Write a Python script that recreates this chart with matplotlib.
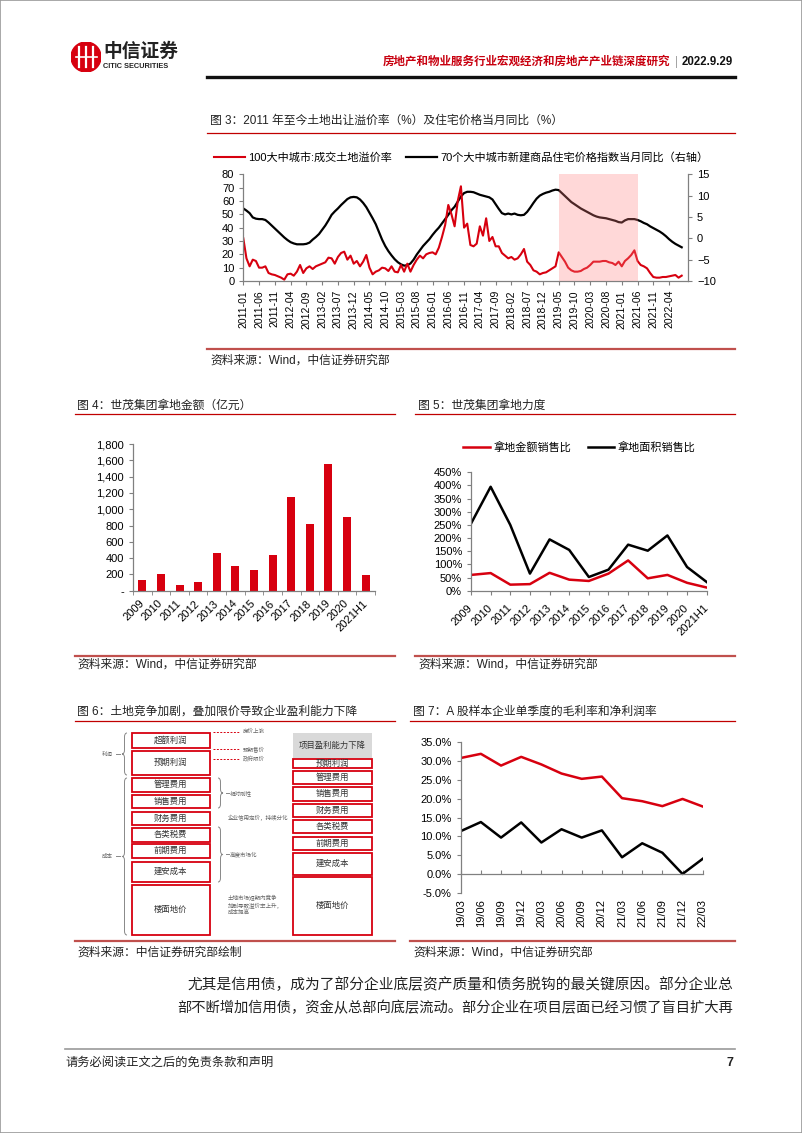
import numpy as np
import matplotlib
matplotlib.use('Agg')
import matplotlib.pyplot as plt
import matplotlib.ticker as ticker
from matplotlib.patches import Rectangle, Circle, PathPatch
from matplotlib.path import Path
from matplotlib.lines import Line2D

plt.rcParams['font.family'] = ['Liberation Sans', 'Noto Sans CJK SC', 'DejaVu Sans']

RED = '#D7000F'
AXIS = '#808080'

# ---------------- data ----------------
# fig 3: monthly, 2011-01 .. 2022-08
premium_rate = [32, 17, 11, 16, 15, 10, 10, 11, 6, 5, 4.5, 3.5,
                2.5, 1, 5, 5.5, 4, 7, 12, 6, 9.5, 11, 9, 11,
                12, 13, 14, 17.5, 17, 13, 18, 21, 22, 16, 19, 13,
                15, 11, 14.5, 19.5, 10, 5, 7, 8, 10, 9.5, 7.5, 11,
                7, 6.5, 12, 7, 13, 7, 12, 16, 19, 17, 20, 21,
                21.5, 20, 25, 33, 42, 57, 50, 41, 60, 71, 40, 43,
                27, 26, 28, 41, 34, 47, 30, 33, 26, 26, 21, 19,
                17, 18, 16, 17, 20, 24, 14.5, 12, 8, 7, 5, 6,
                6.5, 8, 9.5, 11, 21.5, 18, 14.5, 10, 8, 7, 7, 7.5,
                9, 10, 12, 14.5, 14.5, 14.5, 15, 15, 14, 13.5, 12, 14.5,
                11, 15, 17, 19.5, 23, 15, 12, 11, 9.5, 6, 3, 2.5,
                2.5, 3, 3, 3.5, 4, 4.5, 2.5, 4]
price_yoy = [7.0, 6.5, 5.9, 4.9, 4.6, 4.5, 4.5, 4.3, 3.7, 3.0, 2.3, 1.6,
             0.9, 0.2, -0.4, -0.9, -1.2, -1.4, -1.4, -1.4, -1.3, -1.0, -0.3, 0.3,
             1.0, 2.0, 3.0, 4.2, 5.5, 6.3, 7.0, 7.8, 8.5, 9.2, 9.6, 9.7,
             9.6, 9.1, 8.3, 7.3, 6.0, 4.7, 3.3, 1.5, -0.3, -1.8, -3.0, -4.0,
             -4.9, -5.6, -6.1, -6.4, -6.3, -5.9, -5.0, -3.8, -2.8, -1.8, -1.0, -0.2,
             0.8, 1.7, 2.5, 3.5, 4.5, 5.5, 6.6, 7.4, 8.6, 9.8, 10.6, 10.9,
             10.9, 10.8, 10.5, 10.2, 10.0, 9.8, 9.6, 9.1, 8.0, 6.9, 5.9, 5.6,
             5.8, 5.6, 5.8, 5.5, 5.4, 5.5, 6.2, 7.2, 8.3, 9.3, 10.0, 10.4,
             10.7, 10.9, 11.2, 11.4, 11.3, 10.6, 9.9, 9.2, 8.5, 8.0, 7.5, 7.0,
             6.6, 6.2, 5.8, 5.4, 5.1, 4.9, 4.8, 4.7, 4.5, 4.3, 4.1, 3.8,
             3.7, 4.2, 4.5, 4.5, 4.5, 4.3, 4.0, 3.6, 3.3, 2.8, 2.4, 2.0,
             1.6, 1.1, 0.5, -0.2, -0.8, -1.3, -1.7, -2.1]
month_ticks = ['2011-01', '2011-06', '2011-11', '2012-04', '2012-09', '2013-02', '2013-07',
               '2013-12', '2014-05', '2014-10', '2015-03', '2015-08', '2016-01', '2016-06',
               '2016-11', '2017-04', '2017-09', '2018-02', '2018-07', '2018-12', '2019-05',
               '2019-10', '2020-03', '2020-08', '2021-01', '2021-06', '2021-11', '2022-04']
shade_months = (100, 125)   # 2019-05 .. 2021-06

# fig 4 / 5
years = ['2009', '2010', '2011', '2012', '2013', '2014', '2015', '2016', '2017',
         '2018', '2019', '2020', '2021H1']
land_amount = [130, 200, 70, 110, 460, 300, 250, 435, 1150, 820, 1555, 905, 195]
amount_sales_ratio = [60, 67, 23, 25, 68, 42, 37, 65, 115, 47, 60, 30, 12]
area_sales_ratio = [255, 395, 250, 65, 195, 155, 52, 80, 175, 152, 210, 90, 33]

# fig 7
quarters = ['19/03', '19/06', '19/09', '19/12', '20/03', '20/06', '20/09', '20/12',
            '21/03', '21/06', '21/09', '21/12', '22/03']
gross_margin = [30.7, 31.8, 28.7, 31.0, 29.0, 26.6, 25.2, 25.8, 20.1, 19.3, 18.0, 19.9, 17.9]
net_margin = [11.4, 13.8, 9.7, 13.7, 8.4, 11.9, 9.7, 11.6, 4.5, 8.2, 5.7, 0.1, 4.1]

# fig 6 diagram
left_items = ['超额利润', '预期利润', '管理费用', '销售费用', '财务费用', '各类税费', '前期费用', '建安成本', '楼面地价']
left_rows = [(733.3, 748.3), (751, 775), (778.3, 791.7), (795, 808.3), (811.7, 825),
             (828.3, 841.7), (844.3, 858.3), (861.7, 881.7), (885, 935)]
right_items = ['预期利润', '管理费用', '销售费用', '财务费用', '各类税费', '前期费用', '建安成本', '楼面地价']
right_rows = [(759.3, 768.3), (770.7, 784), (787.3, 800.7), (804, 817.3), (820, 833.3),
              (836.7, 850), (853.3, 875), (877.3, 935)]
price_notes = ['房价上涨', '预期售价', '政府限价']
price_rows = [731.7, 749.3, 759.3]

W, H = 802, 1133
fig = plt.figure(figsize=(8.02, 11.33), dpi=100)


def box(l, t, r, b):
    return [l / W, 1 - b / H, (r - l) / W, (b - t) / H]


def ftext(x, y, s, **kw):
    kw.setdefault('va', 'center')
    fig.text(x / W, 1 - y / H, s, **kw)


def hline(x0, x1, y, color, lw):
    fig.add_artist(Line2D([x0 / W, x1 / W], [1 - y / H, 1 - y / H],
                          transform=fig.transFigure, color=color, lw=lw))


def style_axis(ax, left=True):
    for s in ['top', 'right']:
        ax.spines[s].set_visible(False)
    for s in ['left', 'bottom']:
        ax.spines[s].set_color(AXIS)
        ax.spines[s].set_linewidth(0.9)
    ax.tick_params(colors=AXIS, labelcolor='black', labelsize=8, length=3, width=0.8)


# page frame
fig.add_artist(Rectangle((0, 0), 1, 1, transform=fig.transFigure, fill=False, ec='#9a9a9a', lw=1.2))

# ---------------- header ----------------
lax = fig.add_axes(box(71, 42, 101, 72))
lax.set_xlim(-1, 1); lax.set_ylim(-1, 1); lax.set_aspect('equal'); lax.axis('off')
lax.add_patch(Circle((0, 0), 1, color='#D7000F'))
for xx in [-0.45, 0, 0.45]:
    lax.plot([xx, xx], [-0.65, 0.65], color='white', lw=1.6)
lax.plot([-0.7, 0.7], [0, 0], color='white', lw=1.2)
ftext(103, 52, '中信证券', fontsize=13.5, fontweight='bold', color='#222222')
ftext(103, 67, 'CITIC SECURITIES', fontsize=5.3, fontweight='bold', color='#222222')
ftext(670, 62, '房地产和物业服务行业宏观经济和房地产产业链深度研究', fontsize=8.3,
      fontweight='bold', color='#C8000F', ha='right')
ftext(676, 62, '|', fontsize=8.3, color='#999999', ha='center')
ftext(733, 62, '2022.9.29', fontsize=8.3, fontweight='bold', color='#111111', ha='right')
hline(207, 735, 77, '#111111', 2.4)

# ---------------- figure 3 ----------------
ftext(210, 121, '图 3：2011 年至今土地出让溢价率（%）及住宅价格当月同比（%）', fontsize=8.5, color='#222222')
hline(207, 735, 133, '#C00000', 0.9)
ax3 = fig.add_axes(box(243.3, 174.3, 688, 281))
ax3b = ax3.twinx()
m = np.arange(len(premium_rate))
l_black, = ax3b.plot(m, price_yoy, color='black', lw=1.6,
                     label='70个大中城市新建商品住宅价格指数当月同比（右轴）')
l_red, = ax3.plot(m, premium_rate, color=RED, lw=1.5, label='100大中城市:成交土地溢价率')
ax3.set_zorder(ax3b.get_zorder() + 1)
ax3.patch.set_visible(False)
ax3.axvspan(shade_months[0], shade_months[1], color='#FF8080', alpha=0.3, lw=0, zorder=5)
ax3.set_xlim(0, 141)
ax3.set_ylim(0, 80)
ax3b.set_ylim(-10, 15)
ax3.set_yticks(range(0, 81, 10))
ax3b.set_yticks(range(-10, 16, 5))
ax3.set_xticks(range(0, 5 * len(month_ticks), 5))
ax3.set_xticklabels(month_ticks, rotation=90, fontsize=7.5)
style_axis(ax3)
ax3.spines['right'].set_visible(False)
ax3b.spines['top'].set_visible(False)
ax3b.spines['left'].set_visible(False)
ax3b.spines['bottom'].set_visible(False)
ax3b.spines['right'].set_color(AXIS)
ax3b.spines['right'].set_linewidth(0.9)
ax3b.tick_params(colors=AXIS, labelcolor='black', labelsize=8, length=3, width=0.8)
ax3.tick_params(axis='x', labelsize=7.5)
ax3.legend(handles=[l_red, l_black], loc='center', bbox_to_anchor=(0.49, 1.16), ncol=2,
           frameon=False, fontsize=8, handlelength=2.8, columnspacing=1.2, handletextpad=0.3)
hline(207, 735, 349, '#C0504D', 1.6)
ftext(210, 361, '资料来源：Wind，中信证券研究部', fontsize=8.5, color='#222222')

# ---------------- figure 4 ----------------
ftext(77, 406, '图 4：世茂集团拿地金额（亿元）', fontsize=8.5, color='#222222')
hline(75, 395, 414, '#C00000', 0.9)
ax4 = fig.add_axes(box(133, 444, 375, 590.7))
x = np.arange(len(years))
ax4.bar(x, land_amount, width=0.43, color=RED)
ax4.set_xlim(-0.5, len(years) - 0.5)
ax4.set_ylim(0, 1800)
ax4.set_yticks(range(0, 1801, 200))
ax4.yaxis.set_major_formatter(ticker.FuncFormatter(lambda v, _: '-' if v == 0 else '{:,.0f}'.format(v)))
ax4.set_xticks(x)
ax4.set_xticklabels(years, rotation=45, ha='right', va='center', rotation_mode='anchor')
ax4.set_xticks(np.arange(-0.5, len(years), 1), minor=True)
style_axis(ax4)
ax4.tick_params(axis='x', which='major', length=0, pad=8)
ax4.tick_params(axis='x', which='minor', length=3, color=AXIS)
hline(75, 395, 656, '#C0504D', 1.6)
ftext(77, 665, '资料来源：Wind，中信证券研究部', fontsize=8.5, color='#222222')

# ---------------- figure 5 ----------------
ftext(418, 406, '图 5：世茂集团拿地力度', fontsize=8.5, color='#222222')
hline(415, 735, 414, '#C00000', 0.9)
ax5 = fig.add_axes(box(471, 472.3, 706.7, 590.7))
ax5.plot(x, amount_sales_ratio, color=RED, lw=1.8, label='拿地金额销售比')
ax5.plot(x, area_sales_ratio, color='black', lw=1.8, label='拿地面积销售比')
ax5.set_xlim(0, len(years) - 1)
ax5.set_ylim(0, 450)
ax5.set_yticks(range(0, 451, 50))
ax5.yaxis.set_major_formatter(ticker.FuncFormatter(lambda v, _: '{:.0f}%'.format(v)))
ax5.set_xticks(x)
ax5.set_xticklabels(years, rotation=45, ha='right', va='center', rotation_mode='anchor')
style_axis(ax5)
ax5.tick_params(axis='x', pad=8)
ax5.legend(loc='center', bbox_to_anchor=(0.46, 1.215), ncol=2, frameon=False, fontsize=8,
           handlelength=2.4, columnspacing=1.5, handletextpad=0.3)
hline(415, 735, 656, '#C0504D', 1.6)
ftext(418, 665, '资料来源：Wind，中信证券研究部', fontsize=8.5, color='#222222')

# ---------------- figure 6 ----------------
ftext(77, 712, '图 6：土地竞争加剧，叠加限价导致企业盈利能力下降', fontsize=8.5, color='#222222')
hline(75, 395, 720.7, '#C00000', 0.9)
ax6 = fig.add_axes(box(75, 722, 395, 940))
ax6.set_xlim(75, 395)
ax6.set_ylim(940, 722)
ax6.axis('off')

for lab, (t, b) in zip(left_items, left_rows):
    ax6.add_patch(Rectangle((131.7, t), 210 - 131.7, b - t, fill=True, fc='white', ec=RED, lw=1.3))
    ax6.text(170.8, (t + b) / 2, lab, ha='center', va='center', fontsize=6, color='#333333')

ax6.add_patch(Rectangle((293.3, 733.3), 371.7 - 293.3, 758.3 - 733.3, fc='#D9D9D9', ec='none'))
ax6.text(332.5, 745.8, '项目盈利能力下降', ha='center', va='center', fontsize=6, color='#333333')
for lab, (t, b) in zip(right_items, right_rows):
    ax6.add_patch(Rectangle((293.3, t), 371.7 - 293.3, b - t, fill=True, fc='white', ec=RED, lw=1.3))
    ax6.text(332.5, (t + b) / 2, lab, ha='center', va='center', fontsize=6, color='#333333')

for lab, yy in zip(price_notes, price_rows):
    ax6.plot([213, 240], [yy, yy], color=RED, lw=0.7, ls=(0, (2, 1.5)))
    ax6.text(243, yy, lab, ha='left', va='center', fontsize=4, color='#666666')


def brace(ax, xs, y0, y1, w):
    # w > 0: '{' opening right, tip on the left; w < 0: '}'
    ym = (y0 + y1) / 2
    r = min(4, (y1 - y0) / 5)
    verts = [(xs + w, y0), (xs, y0), (xs, y0 + r), (xs, ym - r), (xs, ym), (xs - w, ym),
             (xs, ym), (xs, ym + r), (xs, y1 - r), (xs, y1), (xs + w, y1)]
    codes = [Path.MOVETO, Path.CURVE3, Path.CURVE3, Path.LINETO, Path.CURVE3, Path.CURVE3,
             Path.CURVE3, Path.CURVE3, Path.LINETO, Path.CURVE3, Path.CURVE3]
    ax.add_patch(PathPatch(Path(verts, codes), fill=False, ec='#888888', lw=0.7))
    ax.plot([xs - 2 * w, xs - 3.5 * w], [ym, ym], color='#888888', lw=0.7)


brace(ax6, 124.5, 733, 775, 2.5)
brace(ax6, 124.5, 778, 935, 2.5)
ax6.text(113, 754, '利润', ha='right', va='center', fontsize=4, color='#666666')
ax6.text(113, 856.5, '成本', ha='right', va='center', fontsize=4, color='#666666')
brace(ax6, 220.5, 778, 808, -2.5)
brace(ax6, 220.5, 827, 882, -2.5)
ax6.text(230, 793, '相对刚性', ha='left', va='center', fontsize=4, color='#666666')
ax6.text(228, 817.5, '企业信用定价，持续分化', ha='left', va='center', fontsize=4, color='#666666')
ax6.text(230, 854.5, '高度市场化', ha='left', va='center', fontsize=4, color='#666666')
ax6.text(228, 905, '土地市场短期内竞争\n加剧导致溢价率上升，\n成本提高', ha='left', va='center',
         fontsize=4, color='#666666', linespacing=1.3)

hline(75, 395, 940.7, '#C0504D', 1.6)
ftext(77, 953, '资料来源：中信证券研究部绘制', fontsize=8.5, color='#222222')

# ---------------- figure 7 ----------------
ftext(413, 712, '图 7：A 股样本企业单季度的毛利率和净利润率', fontsize=8.5, color='#222222')
hline(410, 735, 720.7, '#C00000', 0.9)
ax7 = fig.add_axes(box(460.7, 741.7, 702.7, 893.3))
q = np.arange(len(quarters))
ax7.plot(q, gross_margin, color=RED, lw=1.8)
ax7.plot(q, net_margin, color='black', lw=1.8)
ax7.set_xlim(0, len(quarters) - 1)
ax7.set_ylim(-5, 35)
ax7.set_yticks(range(-5, 36, 5))
ax7.yaxis.set_major_formatter(ticker.FuncFormatter(lambda v, _: '{:.1f}%'.format(v)))
style_axis(ax7)
ax7.spines['bottom'].set_position(('data', 0))
ax7.set_xticks(q)
ax7.tick_params(axis='x', direction='in', labelbottom=False)
sec = ax7.secondary_xaxis(0.0)
sec.set_xticks(q)
sec.set_xticklabels(quarters, rotation=90, fontsize=8)
sec.spines['bottom'].set_visible(False)
sec.tick_params(length=0, pad=4)
hline(410, 735, 940.7, '#C0504D', 1.6)
ftext(413, 953, '资料来源：Wind，中信证券研究部', fontsize=8.5, color='#222222')

# ---------------- body + footer ----------------
ftext(733, 985, '尤其是信用债，成为了部分企业底层资产质量和债务脱钩的最关键原因。部分企业总',
      fontsize=10.6, color='#222222', ha='right')
ftext(733, 1008, '部不断增加信用债，资金从总部向底层流动。部分企业在项目层面已经习惯了盲目扩大再',
      fontsize=10.3, color='#222222', ha='right')
hline(65, 735, 1049, '#999999', 1.2)
ftext(65, 1063, '请务必阅读正文之后的免责条款和声明', fontsize=8.8, color='#222222')
ftext(733, 1063, '7', fontsize=9, fontweight='bold', color='#222222', ha='right')

fig.savefig('out.png', dpi=100)
